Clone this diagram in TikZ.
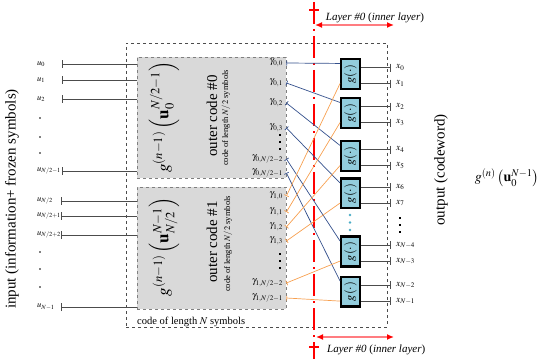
\documentclass[tikz,border=0pt]{standalone}
\usepackage{mathptmx}
\usepackage{fontspec}
\setmainfont{Liberation Serif}
\usetikzlibrary{arrows.meta,calc}
\definecolor{boxgrey}{HTML}{D9D9D9}
\definecolor{edgegrey}{HTML}{7F7F7F}
\definecolor{wireblue}{HTML}{34508C}
\definecolor{wireorange}{HTML}{F7A050}
\definecolor{gblue}{HTML}{93CDDD}
\definecolor{layerred}{HTML}{FF7C80}
\definecolor{dotblue}{HTML}{4BACC6}
\begin{document}
\begin{tikzpicture}[x=1pt,y=-1pt,
  codebox/.style={draw=edgegrey,dashed,fill=boxgrey,line width=0.8pt,inner sep=0pt},
  gbox/.style={draw=black,line width=2.4pt,fill=gblue,minimum width=18.6pt,minimum height=29.6pt,inner sep=0pt},
  inwire/.style={draw=black!70,line width=0.9pt},
  bluewire/.style={draw=wireblue,line width=0.7pt},
  orangewire/.style={draw=wireorange,line width=0.7pt},
  ulab/.style={anchor=west,font=\fontsize{8.5}{8.5}\selectfont,inner sep=0pt},
  gamlab/.style={anchor=east,font=\fontsize{9.5}{9.5}\selectfont,inner sep=0pt},
  xlab/.style={anchor=west,font=\fontsize{9.5}{9.5}\selectfont,inner sep=0pt},
  gtext/.style={rotate=90,font=\fontsize{12.5}{12.5}\selectfont,inner sep=0pt},
  dotmark/.style={circle,fill=black,inner sep=0pt,minimum size=1.6pt},
  bigdot/.style={rectangle,fill=black,inner sep=0pt,minimum size=2.6pt},
  layerarrow/.style={draw=layerred,line width=1.8pt,{Latex[length=7pt,width=6pt,color=red]}-{Latex[length=7pt,width=6pt,color=red]}},
  layerlab/.style={font=\fontsize{11}{11}\selectfont\itshape,inner sep=0pt},
]
\useasboundingbox (0,0) rectangle (550,361);

% outer dashed box (code of length N)
\node[draw=black!70,dashed,line width=0.8pt,minimum width=261pt,minimum height=284pt,inner sep=0pt] (outerbox) at (256.5,185) {};
\node[anchor=west,font=\fontsize{10.5}{10.5}\selectfont,inner sep=0pt] (outerlab) at (137,322) {code of length $N$ symbols};

% outer code boxes
\node[codebox,minimum width=149pt,minimum height=121pt] (oc0) at (211.5,117.5) {};
\node[codebox,minimum width=149pt,minimum height=122pt] (oc1) at (211.5,248) {};

\node[rotate=90,font=\fontsize{17}{17}\selectfont] (f0) at (164,117) {$g^{(n-1)}\left(\mathbf{u}_0^{N/2-1}\right)$};
\node[rotate=90,font=\fontsize{15}{15}\selectfont] (t0) at (212,116) {outer code \#0};
\node[rotate=90,font=\fontsize{8.5}{8.5}\selectfont] (s0) at (226,118) {code of length $N/2$ symbols};

\node[rotate=90,font=\fontsize{17}{17}\selectfont] (f1) at (164,247) {$g^{(n-1)}\left(\mathbf{u}_{N/2}^{N-1}\right)$};
\node[rotate=90,font=\fontsize{15}{15}\selectfont] (t1) at (212,242) {outer code \#1};
\node[rotate=90,font=\fontsize{8.5}{8.5}\selectfont] (s1) at (228,244) {code of length $N/2$ symbols};

% input label
\node[rotate=90,font=\fontsize{15}{15}\selectfont] (inlab) at (12,199) {input (information+ frozen symbols)};

% inputs u
\foreach \n/\yy/\t in {ua/64/{u_0},ub/80/{u_1},uc/99/{u_2},ud/171/{u_{N/2-1}}}{
  \node[ulab] (\n) at (37,\yy) {$\t$};
  \coordinate (\n t) at (62,\yy);
  \draw[inwire,{Bar[width=8pt]}-] (\n t) -- (oc0.west |- \n t);
}
\foreach \n/\yy/\t in {ue/201/{u_{N/2}},uf/216/{u_{N/2+1}},ug/235/{u_{N/2+2}},uh/307/{u_{N-1}}}{
  \node[ulab] (\n) at (37,\yy) {$\t$};
  \coordinate (\n t) at (61,\yy);
  \draw[inwire,{Bar[width=8pt]}-] (\n t) -- (oc1.west |- \n t);
}
\foreach \n/\yy in {d1/118,d2/137,d3/153,d4/252,d5/269,d6/287}{
  \node[dotmark] (\n) at (40,\yy) {};
}

% gamma labels
\foreach \n/\yy/\t in {ga/63/{\gamma_{0,0}},gb/83/{\gamma_{0,1}},gc/103/{\gamma_{0,2}},gd/128/{\gamma_{0,3}},ge/159/{\gamma_{0,N/2-2}},gf/173/{\gamma_{0,N/2-1}}}{
  \node[gamlab] (\n) at (283,\yy) {$\t$};
}
\foreach \n/\yy/\t in {ha/196/{\gamma_{1,0}},hb/212/{\gamma_{1,1}},hc/227/{\gamma_{1,2}},hd/241/{\gamma_{1,3}},he/283/{\gamma_{1,N/2-2}},hf/298/{\gamma_{1,N/2-1}}}{
  \node[gamlab] (\n) at (283,\yy) {$\t$};
}
\foreach \n/\yy in {ka/135,kb/142,kc/149,kd/254,ke/261,kf/268}{
  \node[bigdot] (\n) at (280,\yy) {};
}

% inner g boxes
\foreach \i/\yy in {1/74,2/113,3/156,4/193.5,5/251.5,6/291.5}{
  \node[gbox] (gb\i) at (350.5,\yy) {};
  \node[gtext] (gl\i) at (gb\i) {$g(\cdot)$};
}
\foreach \n/\yy in {bd1/215,bd2/222.5,bd3/230}{
  \node[circle,fill=dotblue,inner sep=0pt,minimum size=2.6pt] (\n) at (350,\yy) {};
}

% red layer divider
\coordinate (rtop) at (314,2);
\coordinate (rbot) at (314,359);
\draw[red,line width=2.2pt,dash pattern=on 22pt off 5pt on 2pt off 5pt] (rtop) -- (rbot);
\coordinate (rt1) at (309,10);
\coordinate (rt2) at (319,10);
\draw[red,line width=1.4pt] (rt1) -- (rt2);
\coordinate (rb1) at (309,347);
\coordinate (rb2) at (319,347);
\draw[red,line width=1.4pt] (rb1) -- (rb2);

% wires from outer code #0 (blue)
\foreach \n/\i in {ga/1,gb/2,gc/3,gd/4,ge/5,gf/6}{
  \draw[bluewire,{Bar[width=5pt]}-] (oc0.east |- \n.east) -- ($(gb\i.north west)!0.17!(gb\i.south west)$);
}
% wires from outer code #1 (orange)
\foreach \n/\i in {ha/1,hb/2,hc/3,hd/4,he/5,hf/6}{
  \draw[orangewire,{Bar[width=5pt]}-] (oc1.east |- \n.east) -- ($(gb\i.north west)!0.8!(gb\i.south west)$);
}

% outputs
\coordinate (tx) at (391,0);
\foreach \i/\a/\b/\ta/\tb in {1/xa/xb/{x_0}/{x_1},2/xc/xd/{x_2}/{x_3},3/xe/xf/{x_4}/{x_5},4/xg/xh/{x_6}/{x_7},5/xi/xj/{x_{N-4}}/{x_{N-3}},6/xk/xl/{x_{N-2}}/{x_{N-1}}}{
  \coordinate (\a s) at ($(gb\i.north east)!0.3!(gb\i.south east)$);
  \coordinate (\b s) at ($(gb\i.north east)!0.8!(gb\i.south east)$);
  \draw[inwire,-{Bar[width=8pt]}] (\a s) -- (\a s -| tx);
  \draw[inwire,-{Bar[width=8pt]}] (\b s) -- (\b s -| tx);
  \node[xlab] (\a) at ($(\a s -| tx)+(5,0)$) {$\ta$};
  \node[xlab] (\b) at ($(\b s -| tx)+(5,0)$) {$\tb$};
}
\foreach \n/\yy in {od1/218,od2/225,od3/232}{
  \node[bigdot] (\n) at (400,\yy) {};
}

% layer arrows
\coordinate (lt1) at (315,25);
\coordinate (lt2) at (394,25);
\draw[layerarrow] (lt1) -- (lt2);
\node[layerlab] (ltl) at (375,18) {Layer \#0 {\upshape(}inner layer{\upshape)}};
\coordinate (lb1) at (316,337);
\coordinate (lb2) at (394,337);
\draw[layerarrow] (lb1) -- (lb2);
\node[layerlab,anchor=west] (lbl) at (327,350) {Layer \#0 {\upshape(}inner layer{\upshape)}};

% output labels
\node[rotate=90,font=\fontsize{15}{15}\selectfont] (outlab) at (441,170) {output (codeword)};
\node[font=\fontsize{14}{14}\selectfont] (gn) at (507,178) {$g^{(n)}\left(\mathbf{u}_0^{N-1}\right)$};
\end{tikzpicture}
\end{document}
